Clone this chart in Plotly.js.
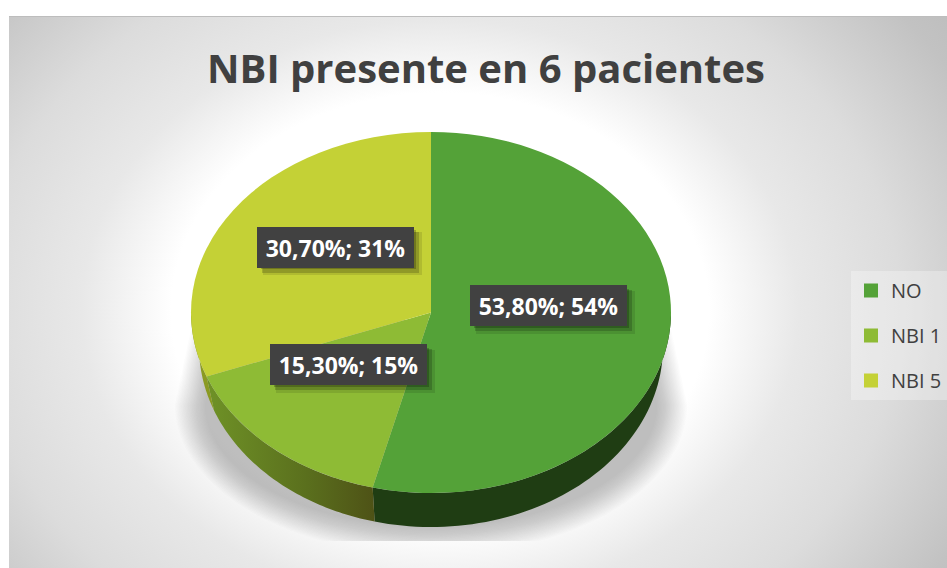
<!DOCTYPE html>
<html>
<head>
<meta charset="utf-8">
<script src="https://cdn.plot.ly/plotly-3.0.1.min.js"></script>
<style>
html,body{margin:0;padding:0;background:#fff;overflow:hidden}
#bg{position:absolute;left:9px;top:16px;width:938px;height:552px;border-top:1px solid #bdbdbd;box-sizing:border-box;
background:radial-gradient(ellipse 640px 520px at 431px 294px,#fff 0%,#fff 42%,#e8e8e8 56%,#dcdcdc 72%,#c2c2c2 92%,#bdbdbd 100%)}
#chart{position:absolute;left:0;top:0;width:947px;height:568px}
</style>
</head>
<body>
<div id="bg"></div>
<div id="chart"></div>
<script>
const categories = ['NO', 'NBI 1', 'NBI 5'];
const values = [53.8, 15.3, 30.7];
const valueLabels = ['53,80%', '15,30%', '30,70%'];
const shareLabels = ['54%', '15%', '31%'];
const sliceColors = ['#54a238', '#8ebb35', '#c4d136'];
const titleText = 'NBI presente en 6 pacientes';

const W = 947, H = 568;
const cx = 431, cy = 312.5, rx = 240, ry = 180.5, depth = 34, rxBottom = 232;
const font = '"Open Sans", sans-serif';
const labelBoxes = [[548, 305.5], [348.5, 364.5], [335.5, 247]];
const boxW = 157, boxH = 41;

const px = x => x / W;
const py = y => 1 - y / H;

// Side wall of the pie, one band per slice, from the same values
const total = values.reduce((a, b) => a + b, 0);
const wallStyles = [
  {fillcolor: '#1f3d13'},
  {fillgradient: {type: 'horizontal', colorscale: [[0, '#6f9227'], [0.6, '#5a6f1d'], [1, '#4e5216']]}},
  {fillcolor: '#8a9a22'}
];
function wall(from, to) {
  const xs = [], ys = [], n = 60;
  for (let i = 0; i <= n; i++) {
    const t = (from + (to - from) * i / n) * 2 * Math.PI;
    xs.push(cx + rxBottom * Math.sin(t)); ys.push(cy + depth - ry * Math.cos(t));
  }
  for (let i = n; i >= 0; i--) {
    const t = (from + (to - from) * i / n) * 2 * Math.PI;
    xs.push(cx + rx * Math.sin(t)); ys.push(cy - ry * Math.cos(t));
  }
  return {xs, ys};
}
const traces = [];

// Soft ground shadow, layered
const shadowLayers = 24;
for (let k = 0; k < shadowLayers; k++) {
  const f = k / (shadowLayers - 1);
  const a = 226 + f * 30, b = 122 + f * 28, yc = 405, xs = [], ys = [];
  const topY = 320, topInset = 0.07 * a;
  xs.push(cx - a + topInset); ys.push(topY);
  for (let i = 0; i <= 80; i++) {
    const t = -Math.PI / 2 + Math.PI * i / 80;
    xs.push(cx + a * Math.sin(t)); ys.push(Math.min(541, yc + b * Math.cos(t)));
  }
  xs.push(cx + a - topInset); ys.push(topY);
  traces.push({type: 'scatter', mode: 'none', x: xs, y: ys, fill: 'toself',
    fillcolor: 'rgba(90,90,90,0.018)', showlegend: false, hoverinfo: 'skip'});
}

let acc = 0;
values.forEach((v, i) => {
  const from = acc / total, to = (acc + v) / total; acc += v;
  const lo = Math.max(from, 0.25), hi = Math.min(to, 0.75);
  if (hi <= lo) return;
  const w = wall(lo, hi);
  traces.push(Object.assign({type: 'scatter', mode: 'none', x: w.xs, y: w.ys, fill: 'toself',
    showlegend: false, hoverinfo: 'skip'}, wallStyles[i]));
});

// The pie itself
traces.push({
  type: 'pie', labels: categories, values: values, sort: false, direction: 'clockwise', rotation: 0,
  marker: {colors: sliceColors, line: {width: 0}}, textinfo: 'none', hoverinfo: 'skip', showlegend: false,
  domain: {x: [px(cx - rx), px(cx + rx)], y: [py(cy + rx), py(cy - rx)]}
});

// Legend entries
categories.forEach((c, i) => traces.push({
  type: 'scatter', mode: 'markers', x: [null], y: [null], name: c, legendgroup: c,
  marker: {symbol: 'square', size: 14, color: sliceColors[i]}, hoverinfo: 'skip'
}));

// Data labels
const annotations = [];
labelBoxes.forEach((b, i) => {
  [[7, 7, 'rgba(0,0,0,0.10)', 2], [5, 5, 'rgba(0,0,0,0.18)', 0], [3, 3, 'rgba(0,0,0,0.22)', -2]].forEach(s => {
    annotations.push({xref: 'paper', yref: 'paper', x: px(b[0] + s[0]), y: py(b[1] + s[1]), text: ' ',
      showarrow: false, width: boxW + s[3], height: boxH + s[3], bgcolor: s[2], borderpad: 0, borderwidth: 0,
      xanchor: 'center', yanchor: 'middle'});
  });
});
labelBoxes.forEach((b, i) => {
  annotations.push({xref: 'paper', yref: 'paper', x: px(b[0]), y: py(b[1]),
    text: '<b>' + valueLabels[i] + '; ' + shareLabels[i] + '</b>',
    showarrow: false, width: boxW, height: boxH, bgcolor: '#414141', borderpad: 0, borderwidth: 0,
    font: {family: font, size: 23, color: '#ffffff'}, align: 'center', valign: 'middle',
    xanchor: 'center', yanchor: 'middle'});
});

const layout = {
  width: W, height: H,
  margin: {l: 0, r: 0, t: 0, b: 0, pad: 0},
  paper_bgcolor: 'rgba(0,0,0,0)', plot_bgcolor: 'rgba(0,0,0,0)',
  font: {family: font, color: '#404040'},
  title: {text: '<b>' + titleText + '</b>', font: {family: font, size: 40, color: '#404040'},
    x: 486 / W, xanchor: 'center', xref: 'paper', y: 1 - 69 / H, yanchor: 'middle', yref: 'paper'},
  xaxis: {range: [0, W], visible: false, fixedrange: true},
  yaxis: {range: [H, 0], visible: false, fixedrange: true},
  showlegend: true,
  legend: {x: 851 / W, xanchor: 'left', y: py(271), yanchor: 'top', bgcolor: 'rgba(255,255,255,0.3)',
    font: {family: font, size: 20, color: '#404040'}, tracegroupgap: 16, itemclick: false, itemdoubleclick: false},
  annotations: annotations
};

Plotly.newPlot('chart', traces, layout, {staticPlot: true, displayModeBar: false}).then(gd => {
  // the pie lies tilted: flatten it about its centre into the ellipse of the picture
  const k = ry / rx;
  const g = gd.querySelector('.pielayer');
  if (g) g.setAttribute('transform', `translate(0,${cy}) scale(1,${k}) translate(0,${-cy})`);
});
</script>
</body>
</html>
